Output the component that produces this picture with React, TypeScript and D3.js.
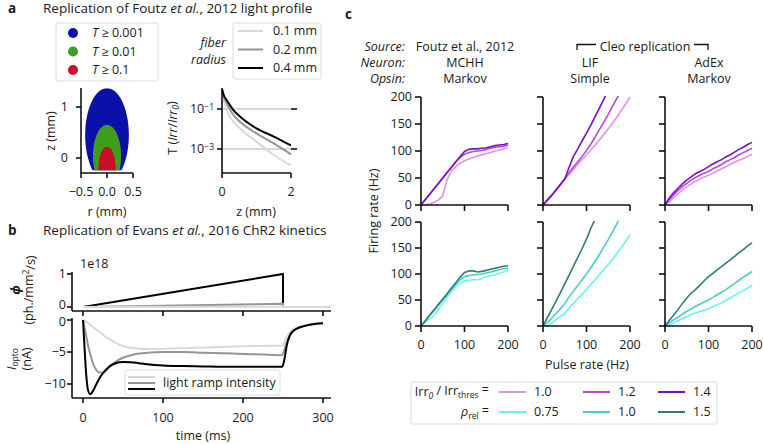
import React from 'react';
import * as d3 from 'd3';

const FONT = "'Open Sans', 'Noto Sans', 'DejaVu Sans', sans-serif";
const TXT = '#1a1a1a';
const FS = 12.5;
const SUB = 8.5;

// ---------- Panel a (left): light profile regions ----------
const regionLabels = ['0.001', '0.01', '0.1'];
const regionColors = ['#0b10a8', '#3f9d1e', '#c80f27'];
const regionCenterZ = [0.45, 0.04, -0.2];
const regionHalfZ = [0.92, 0.61, 0.42];
const regionHalfR = [0.42, 0.27, 0.165];
const regionClipZ = -0.24;
const rTicks = [-0.5, 0, 0.5];
const rTickLabels = ['\u22120.5', '0.0', '0.5'];
const zTicksA = [0, 1];

// ---------- Panel a (right): transmittance vs depth ----------
const fiberLabels = ['0.1 mm', '0.2 mm', '0.4 mm'];
const fiberColors = ['#d9d9d9', '#959595', '#000000'];
const depthZ = [0, 0.05, 0.135, 0.33, 0.52, 1.0, 1.5, 2.0];
const T_r01 = [1, 0.28, 0.089, 0.023, 0.0107, 0.0023, 0.0005, 0.00015];
const T_r02 = [1, 0.42, 0.2, 0.05, 0.023, 0.006, 0.0019, 0.00054];
const T_r04 = [1, 0.5, 0.28, 0.089, 0.042, 0.0107, 0.0042, 0.0015];
const tDecades = [1e-1, 1e-3];
const tDecadeExp = ['\u22121', '\u22123'];
const depthTicks = [0, 2];

// ---------- Panel b: ChR2 kinetics ----------
const rampColors = ['#d9d9d9', '#959595', '#000000'];
const phiTime = [0, 250, 250, 310];
const phiLow = [0, 0.01, 0, 0];
const phiMid = [0, 0.1, 0, 0];
const phiHigh = [0, 1, 0, 0];
const iTime = [0, 2, 4, 6, 9, 12, 16, 20, 25, 30, 35, 40, 45, 50, 60, 70, 80, 100, 125, 150, 175, 200, 225, 249, 252, 255, 258, 262, 268, 275, 285, 300];
const iLow = [0, -0.1, -0.25, -0.45, -0.75, -1.05, -1.45, -1.8, -2.3, -2.75, -3.15, -3.5, -3.8, -4.05, -4.35, -4.5, -4.55, -4.5, -4.4, -4.3, -4.2, -4.1, -4.05, -4.0, -3.3, -2.6, -2.0, -1.5, -1.15, -0.9, -0.65, -0.45];
const iMid = [0, -1.2, -2.5, -3.8, -5.3, -6.6, -7.7, -8.2, -8.2, -7.7, -7.1, -6.6, -6.2, -5.9, -5.5, -5.25, -5.1, -5.0, -5.0, -5.1, -5.2, -5.3, -5.4, -5.5, -4.5, -3.4, -2.5, -1.8, -1.3, -1.0, -0.7, -0.45];
const iHigh = [0, -4.5, -8.5, -10.8, -11.6, -11.2, -10.2, -9.2, -8.3, -7.6, -7.1, -6.8, -6.6, -6.55, -6.6, -6.75, -6.9, -7.1, -7.2, -7.25, -7.3, -7.3, -7.3, -7.3, -6.0, -3.8, -2.6, -1.8, -1.3, -1.0, -0.7, -0.5];
const timeTicks = [0, 100, 200, 300];
const phiTicks = [0, 1];
const iTicks = [0, -5, -10];

// ---------- Panel c: firing rate vs pulse rate ----------
const pulseRate = [0, 10, 20, 30, 40, 50, 60, 70, 80, 90, 100, 110, 120, 130, 140, 150, 160, 170, 180, 190, 200];
const irrLabels = ['1.0', '1.2', '1.4'];
const rhoLabels = ['0.75', '1.0', '1.5'];
const irrColors = ['#e391e8', '#b64bd3', '#7a0ec4'];
const rhoColors = ['#62f6f3', '#47cfc7', '#2e7c75'];

const mchhIrr10 = [0, 0.5, 2, 5, 9, 17, 47, 63, 71, 77, 82, 85, 88, 91, 93, 95, 97, 100, 102, 104, 106];
const mchhIrr12 = [0, 10, 20, 30, 40, 50, 60, 70, 80, 88, 94, 97, 99, 100, 101, 103, 105, 107, 108, 109, 111];
const mchhIrr14 = [0, 10, 20, 30, 40, 50, 60, 70, 80, 90, 99, 103, 104, 104, 105, 106, 108, 110, 111, 112, 114];
const lifIrr10 = [0, 9, 18, 28, 38, 47, 57, 66, 75, 84, 93, 102, 111, 121, 131, 141, 152, 163, 175, 187, 200];
const lifIrr12 = [0, 9, 18, 28, 38, 48, 60, 70, 80, 90, 101, 113, 126, 140, 154, 168, 183, 198, 212];
const lifIrr14 = [0, 9, 18, 28, 38, 48, 70, 90, 104, 119, 133, 148, 164, 180, 196, 212];
const adexIrr10 = [0, 6, 14, 21, 28, 34, 39, 44, 48, 52, 55, 59, 63, 67, 71, 75, 79, 83, 86, 90, 94];
const adexIrr12 = [0, 10, 19, 27, 34, 40, 46, 51, 55, 59, 62, 67, 71, 75, 80, 84, 88, 93, 97, 101, 105];
const adexIrr14 = [0, 13, 23, 31, 39, 46, 52, 58, 62, 66, 71, 76, 80, 84, 89, 93, 98, 103, 107, 112, 116];
const mchhRho075 = [0, 8, 14, 20, 32, 44, 56, 66, 75, 82, 87, 88, 89, 89, 91, 95, 97, 98, 101, 104, 107];
const mchhRho10 = [0, 10, 20, 30, 40, 50, 60, 70, 80, 89, 95, 97, 98, 99, 100, 102, 104, 106, 108, 110, 111];
const mchhRho15 = [0, 10, 21, 31, 42, 52, 62, 73, 83, 94, 103, 106, 106, 104, 105, 107, 109, 111, 113, 115, 116];
const lifRho075 = [0, 0, 5, 12, 18, 24, 34, 44, 53, 61, 70, 80, 89, 99, 109, 118, 128, 140, 151, 163, 175];
const lifRho10 = [0, 6, 15, 24, 33, 43, 56, 67, 78, 89, 100, 112, 125, 138, 152, 166, 181, 197, 212];
const lifRho15 = [0, 16, 32, 48, 64, 81, 98, 115, 132, 149, 167, 188, 206];
const adexRho075 = [0, 2, 6, 10, 14, 18, 22, 25, 28, 30, 33, 37, 41, 45, 49, 54, 59, 64, 68, 73, 78];
const adexRho10 = [0, 6, 12, 17, 23, 28, 33, 38, 42, 46, 50, 55, 60, 65, 70, 76, 82, 88, 94, 99, 105];
const adexRho15 = [0, 11, 21, 32, 43, 54, 63, 70, 78, 87, 95, 101, 108, 114, 121, 127, 134, 141, 147, 154, 160];
const pulseTicks = [0, 100, 200];
const rateTicks = [0, 50, 100, 150, 200];
const sourceRow = ['Foutz et al., 2012', '', ''];
const neuronRow = ['MCHH', 'LIF', 'AdEx'];
const opsinRow = ['Markov', 'Simple', 'Markov'];

const AX = { stroke: '#111', strokeWidth: 1.6 };

function pathFrom(xs: number[], ys: number[], sx: any, sy: any, curve: any = d3.curveLinear) {
  return d3.line<number>().x((_, i) => sx(xs[i])).y((d) => sy(d)).curve(curve)(ys) || '';
}

function PanelALeft() {
  const sx = d3.scaleLinear([-0.5, 0.5], [81, 133]);
  const sy = d3.scaleLinear([0, 1], [158, 107]);
  const angles = d3.range(0, 361, 3).map((a) => (a * Math.PI) / 180);
  return (
    <g>
      <defs>
        <clipPath id="aclip">
          <rect x={sx(-0.5)} y={sy(1.37)} width={sx(0.5) - sx(-0.5)} height={sy(regionClipZ) - sy(1.37)} />
        </clipPath>
      </defs>
      <g clipPath="url(#aclip)">
        {regionLabels.map((_, k) => {
          const d =
            d3
              .line<number>()
              .x((t) => sx(regionHalfR[k] * Math.sin(t)))
              .y((t) => sy(regionCenterZ[k] + regionHalfZ[k] * Math.cos(t)))(angles) + 'Z';
          return <path key={k} d={d} fill={regionColors[k]} />;
        })}
      </g>
      <line x1={sx(-0.5)} x2={sx(-0.5)} y1={88} y2={173} {...AX} />
      <line x1={sx(-0.5)} x2={sx(0.5)} y1={173} y2={173} {...AX} />
      {zTicksA.map((t) => (
        <g key={t}>
          <line x1={sx(-0.5) - 5} x2={sx(-0.5)} y1={sy(t)} y2={sy(t)} {...AX} />
          <text x={68} y={sy(t)} dy="0.35em" textAnchor="end" fontSize={FS} fill={TXT}>{t}</text>
        </g>
      ))}
      {rTicks.map((t, i) => (
        <g key={t}>
          <line x1={sx(t)} x2={sx(t)} y1={173} y2={178} {...AX} />
          <text x={sx(t)} y={192} dy="0.35em" textAnchor="middle" fontSize={FS} fill={TXT}>{rTickLabels[i]}</text>
        </g>
      ))}
      <text x={107} y={212} dy="0.35em" textAnchor="middle" fontSize={FS} fill={TXT}>r (mm)</text>
      <text transform="translate(50,131) rotate(-90)" dominantBaseline="central" textAnchor="middle" fontSize={FS} fill={TXT}>z (mm)</text>
      <rect x={56} y={23} width={102} height={58} rx={2} fill="white" stroke="#dcdcdc" strokeWidth={1} />
      {regionLabels.map((lab, k) => (
        <g key={k}>
          <circle cx={73} cy={33 + k * 18.5} r={5} fill={regionColors[k]} />
          <text x={92} y={33 + k * 18.5} dy="0.35em" fontSize={FS} fill={TXT}>
            <tspan fontStyle="italic">T</tspan> ≥ {lab}
          </text>
        </g>
      ))}
    </g>
  );
}

function PanelARight() {
  const sx = d3.scaleLinear([0, 2], [222, 291]);
  const sy = d3.scaleLog([Math.pow(10, -4.2), Math.pow(10, 0.05)], [173, 88]);
  const series = [T_r01, T_r02, T_r04];
  return (
    <g>
      {tDecades.map((t, i) => (
        <g key={t}>
          <line x1={sx(0)} x2={sx(2)} y1={sy(t)} y2={sy(t)} stroke="#b4b4b4" strokeWidth={1} />
          <line x1={sx(0) - 5} x2={sx(0)} y1={sy(t)} y2={sy(t)} {...AX} />
          <line x1={sx(2)} x2={sx(2) + 6} y1={sy(t)} y2={sy(t)} {...AX} />
          <text x={214} y={sy(t)} dy="0.35em" textAnchor="end" fontSize={FS} fill={TXT}>
            10<tspan dy="-0.45em" fontSize={SUB}>{tDecadeExp[i]}</tspan>
          </text>
        </g>
      ))}
      <defs>
        <clipPath id="arclip">
          <rect x={sx(0) - 1} y={87} width={sx(2) - sx(0) + 2} height={86} />
        </clipPath>
      </defs>
      <g clipPath="url(#arclip)">
        {series.map((s, k) => (
          <path key={k} d={pathFrom(depthZ, s, sx, sy, d3.curveMonotoneX)} fill="none" stroke={fiberColors[k]} strokeWidth={2} />
        ))}
      </g>
      <line x1={sx(0)} x2={sx(0)} y1={88} y2={173} {...AX} />
      <line x1={sx(0)} x2={sx(2)} y1={173} y2={173} {...AX} />
      {depthTicks.map((t) => (
        <g key={t}>
          <line x1={sx(t)} x2={sx(t)} y1={173} y2={178} {...AX} />
          <text x={sx(t)} y={192} dy="0.35em" textAnchor="middle" fontSize={FS} fill={TXT}>{t}</text>
        </g>
      ))}
      <text x={256} y={212} dy="0.35em" textAnchor="middle" fontSize={FS} fill={TXT}>z (mm)</text>
      <text transform="translate(172,128) rotate(-90)" dominantBaseline="central" textAnchor="middle" fontSize={FS} fill={TXT}>
        T (<tspan fontStyle="italic">Irr</tspan>/<tspan fontStyle="italic">Irr</tspan>
        <tspan dy="0.3em" fontSize={SUB} fontStyle="italic">0</tspan>
        <tspan dy="-0.3em">)</tspan>
      </text>
      <text x={226} y={43} dy="0.35em" textAnchor="end" fontSize={FS} fontStyle="italic" fill={TXT}>fiber</text>
      <text x={226} y={60} dy="0.35em" textAnchor="end" fontSize={FS} fontStyle="italic" fill={TXT}>radius</text>
      <rect x={233} y={23} width={88} height={56} rx={2} fill="white" stroke="#dcdcdc" strokeWidth={1} />
      {fiberLabels.map((lab, k) => (
        <g key={k}>
          <line x1={238} x2={263} y1={31 + k * 18.5} y2={31 + k * 18.5} stroke={fiberColors[k]} strokeWidth={2} />
          <text x={273} y={31 + k * 18.5} dy="0.35em" fontSize={FS} fill={TXT}>{lab}</text>
        </g>
      ))}
    </g>
  );
}

function PanelB() {
  const sx = d3.scaleLinear([0, 300], [83, 323]);
  const syPhi = d3.scaleLinear([0, 1], [307, 274]);
  const syI = d3.scaleLinear([0, -10], [320, 384]);
  const phiSeries = [phiLow, phiMid, phiHigh];
  const iSeries = [iLow, iMid, iHigh];
  const x0 = 72, x1 = 331;
  return (
    <g>
      {[2, 1, 0].map((k) => (
        <path key={k} d={pathFrom(phiTime, phiSeries[k], sx, syPhi)} fill="none" stroke={rampColors[k]} strokeWidth={2} />
      ))}
      <line x1={x0} x2={x0} y1={272} y2={311} {...AX} />
      <line x1={x0} x2={x1} y1={311} y2={311} {...AX} />
      {phiTicks.map((t) => (
        <g key={t}>
          <line x1={x0 - 5} x2={x0} y1={syPhi(t)} y2={syPhi(t)} {...AX} />
          <text x={66} y={syPhi(t) - (t === 0 ? 2 : 0)} dy="0.35em" textAnchor="end" fontSize={FS} fill={TXT}>{t}</text>
        </g>
      ))}
      {timeTicks.map((t) => (
        <line key={t} x1={sx(t)} x2={sx(t)} y1={311} y2={316} {...AX} />
      ))}
      <text x={80} y={264} dy="0.35em" fontSize={FS} fill={TXT}>1e18</text>
      <text transform="translate(15,290) rotate(-90)" dominantBaseline="central" textAnchor="middle" fontSize={FS} fill={TXT} fontStyle="italic" fontWeight="bold">ϕ</text>
      <text transform="translate(28,290) rotate(-90)" dominantBaseline="central" textAnchor="middle" fontSize={FS} fill={TXT}>
        (ph./mm<tspan dy="-0.4em" fontSize={SUB}>2</tspan><tspan dy="0.4em">/s)</tspan>
      </text>

      {[0, 1, 2].map((k) => (
        <path key={k} d={pathFrom(iTime, iSeries[k], sx, syI, d3.curveMonotoneX)} fill="none" stroke={rampColors[k]} strokeWidth={2} />
      ))}
      <line x1={x0} x2={x0} y1={318} y2={398} {...AX} />
      <line x1={x0} x2={x1} y1={398} y2={398} {...AX} />
      {iTicks.map((t) => (
        <g key={t}>
          <line x1={x0 - 5} x2={x0} y1={syI(t)} y2={syI(t)} {...AX} />
          <text x={66} y={syI(t) + (t === 0 ? 2 : 0)} dy="0.35em" textAnchor="end" fontSize={FS} fill={TXT}>{t === 0 ? '0' : '\u2212' + Math.abs(t)}</text>
        </g>
      ))}
      {timeTicks.map((t) => (
        <g key={t}>
          <line x1={sx(t)} x2={sx(t)} y1={398} y2={403} {...AX} />
          <text x={sx(t)} y={418} dy="0.35em" textAnchor="middle" fontSize={FS} fill={TXT}>{t}</text>
        </g>
      ))}
      <text x={203} y={435.5} dy="0.35em" textAnchor="middle" fontSize={FS} fill={TXT}>time (ms)</text>
      <text transform="translate(11,359) rotate(-90)" dominantBaseline="central" textAnchor="middle" fontSize={FS} fill={TXT}>
        <tspan fontStyle="italic">I</tspan><tspan dy="0.3em" fontSize={SUB}>opto</tspan>
      </text>
      <text transform="translate(26,359) rotate(-90)" dominantBaseline="central" textAnchor="middle" fontSize={FS} fill={TXT}>(nA)</text>
      <rect x={125} y={370} width={155} height={25} rx={2} fill="white" fillOpacity={0.85} stroke="#dcdcdc" strokeWidth={1} />
      {rampColors.map((c, k) => (
        <line key={k} x1={128} x2={155} y1={377 + k * 6} y2={377 + k * 6} stroke={c} strokeWidth={2} />
      ))}
      <text x={163} y={383} dy="0.35em" fontSize={FS} fill={TXT}>light ramp intensity</text>
    </g>
  );
}

const colX0 = [421, 543, 665];
const colW = 87;
const rows = [
  { y0: 205, y1: 97, colors: irrColors, data: [[mchhIrr10, mchhIrr12, mchhIrr14], [lifIrr10, lifIrr12, lifIrr14], [adexIrr10, adexIrr12, adexIrr14]] },
  { y0: 326, y1: 222, colors: rhoColors, data: [[mchhRho075, mchhRho10, mchhRho15], [lifRho075, lifRho10, lifRho15], [adexRho075, adexRho10, adexRho15]] },
];

function PanelC() {
  return (
    <g>
      {rows.map((row, ri) =>
        colX0.map((cx, ci) => {
          const sx = d3.scaleLinear([0, 200], [cx, cx + colW]);
          const sy = d3.scaleLinear([0, 200], [row.y0, row.y1]);
          const id = `cclip${ri}${ci}`;
          return (
            <g key={`${ri}${ci}`}>
              <defs>
                <clipPath id={id}>
                  <rect x={cx - 2} y={row.y1 - 1} width={colW + 6} height={row.y0 - row.y1 + 3} />
                </clipPath>
              </defs>
              <g clipPath={`url(#${id})`}>
                {row.data[ci].map((vals, k) => (
                  <path key={k} d={pathFrom(pulseRate.slice(0, vals.length), vals, sx, sy)} fill="none" stroke={row.colors[k]} strokeWidth={1.6} strokeLinejoin="round" />
                ))}
              </g>
              <line x1={cx} x2={cx} y1={row.y1} y2={row.y0} {...AX} />
              <line x1={cx} x2={cx + colW} y1={row.y0} y2={row.y0} {...AX} />
              {rateTicks.map((t) => (
                <g key={t}>
                  <line x1={cx - 6} x2={cx} y1={sy(t)} y2={sy(t)} {...AX} />
                  {ci === 0 && (
                    <text x={cx - 9} y={sy(t)} dy="0.35em" textAnchor="end" fontSize={FS} fill={TXT}>{t}</text>
                  )}
                </g>
              ))}
              {pulseTicks.map((t) => (
                <g key={t}>
                  <line x1={sx(t)} x2={sx(t)} y1={row.y0} y2={row.y0 + 6} {...AX} />
                  {ri === 1 && (
                    <text x={sx(t)} y={345} dy="0.35em" textAnchor="middle" fontSize={FS} fill={TXT}>{t}</text>
                  )}
                </g>
              ))}
            </g>
          );
        })
      )}
      <text x={587} y={365} dy="0.35em" textAnchor="middle" fontSize={FS} fill={TXT}>Pulse rate (Hz)</text>
      <text transform="translate(373,211) rotate(-90)" dominantBaseline="central" textAnchor="middle" fontSize={FS} fill={TXT}>Firing rate (Hz)</text>

      {['Source:', 'Neuron:', 'Opsin:'].map((s, i) => (
        <text key={s} x={405} y={47 + i * 16} dy="0.35em" textAnchor="end" fontSize={FS} fontStyle="italic" fill={TXT}>{s}</text>
      ))}
      {[465, 590, 709].map((x, ci) => (
        <g key={ci}>
          {sourceRow[ci] && <text x={x} y={47} dy="0.35em" textAnchor="middle" fontSize={FS} fill={TXT}>{sourceRow[ci]}</text>}
          <text x={x} y={63} dy="0.35em" textAnchor="middle" fontSize={FS} fill={TXT}>{neuronRow[ci]}</text>
          <text x={x} y={79} dy="0.35em" textAnchor="middle" fontSize={FS} fill={TXT}>{opsinRow[ci]}</text>
        </g>
      ))}
      <text x={645} y={47} dy="0.35em" textAnchor="middle" fontSize={FS} fill={TXT}>Cleo replication</text>
      <path d="M577,50 V44.5 H596" fill="none" stroke="#111" strokeWidth={1.3} />
      <path d="M694,44.5 H708 V50" fill="none" stroke="#111" strokeWidth={1.3} />

      <rect x={411} y={382} width={306} height={42} rx={2} fill="white" stroke="#dcdcdc" strokeWidth={1} />
      <text x={489} y={392} dy="0.35em" textAnchor="end" fontSize={FS} fill={TXT}>
        Irr<tspan dy="0.3em" fontSize={SUB} fontStyle="italic">0</tspan>
        <tspan dy="-0.3em"> / Irr</tspan>
        <tspan dy="0.3em" fontSize={SUB}>thres</tspan>
        <tspan dy="-0.3em"> =</tspan>
      </text>
      <text x={489} y={412} dy="0.35em" textAnchor="end" fontSize={FS} fill={TXT}>
        <tspan fontStyle="italic">ρ</tspan><tspan dy="0.3em" fontSize={SUB}>rel</tspan>
        <tspan dy="-0.3em"> =</tspan>
      </text>
      {[499, 583, 658].map((lx, k) => (
        <g key={k}>
          <line x1={lx} x2={lx + 27} y1={392} y2={392} stroke={irrColors[k]} strokeWidth={2} />
          <text x={lx + 35} y={392} dy="0.35em" fontSize={FS} fill={TXT}>{irrLabels[k]}</text>
          <line x1={lx} x2={lx + 27} y1={412} y2={412} stroke={rhoColors[k]} strokeWidth={2} />
          <text x={lx + 35} y={412} dy="0.35em" fontSize={FS} fill={TXT}>{rhoLabels[k]}</text>
        </g>
      ))}
    </g>
  );
}

export default function App() {
  return (
    <svg width={763} height={444} viewBox="0 0 763 444" style={{ position: 'absolute', left: 0, top: 0, background: 'white' }} fontFamily={FONT}>
      <rect width={763} height={444} fill="white" />
      <text x={8} y={13} fontSize={13.5} fontWeight="bold" fill={TXT}>a</text>
      <text x={43} y={13} fontSize={13.5} fill={TXT}>
        Replication of Foutz <tspan fontStyle="italic">et al.</tspan>, 2012 light profile
      </text>
      <text x={8} y={235} fontSize={13.5} fontWeight="bold" fill={TXT}>b</text>
      <text x={43} y={235} fontSize={13.5} fill={TXT}>
        Replication of Evans <tspan fontStyle="italic">et al.</tspan>, 2016 ChR2 kinetics
      </text>
      <text x={345} y={19} fontSize={13.5} fontWeight="bold" fill={TXT}>c</text>
      <PanelALeft />
      <PanelARight />
      <PanelB />
      <PanelC />
    </svg>
  );
}
